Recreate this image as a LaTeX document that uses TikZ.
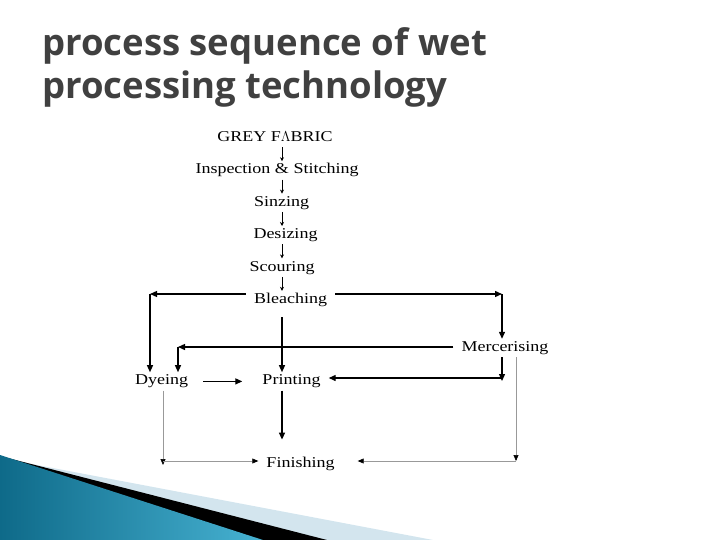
\documentclass[tikz,border=0pt]{standalone}
\usepackage{fontspec}
\usetikzlibrary{arrows.meta, positioning}
\newfontfamily\titlefont{Open Sans}
\newfontfamily\flowfont[FakeStretch=1.2]{Liberation Serif}
\definecolor{titlegray}{HTML}{404040}
\definecolor{tealdark}{HTML}{0E6A89}
\definecolor{teallight}{HTML}{47B2D2}
\definecolor{paleband}{HTML}{D3E5EE}

\begin{document}
\begin{tikzpicture}[
    x=1pt, y=-1pt,
    node distance=14pt,
    % Style definitions
    heading/.style={anchor=base west, inner sep=0pt, align=left, text=titlegray,
                    font=\titlefont\bfseries\fontsize{36.5}{43}\selectfont},
    stage/.style={inner xsep=8pt, inner ysep=2pt, text height=10.5pt, text depth=3.5pt,
                  font=\flowfont\fontsize{15}{18}\selectfont},
    link/.style={-{Stealth[length=4pt, width=4pt]}, line width=0.6pt},
    arrow/.style={-{Triangle[length=7pt, width=6pt]}, line width=1.3pt},
    faint/.style={-{Triangle[length=6pt, width=5pt, color=black]}, line width=0.6pt, draw=black!40},
]
\useasboundingbox (0,0) rectangle (720,540);

% Corner decoration
\fill[paleband] (0,458) -- (433,540) -- (0,540) -- cycle;
\fill[black] (0,456) -- (327,540) -- (0,540) -- cycle;
\shade[left color=tealdark, right color=teallight] (0,455) -- (263,540) -- (0,540) -- cycle;

% Title
\node[heading] (title) at (42,99) {process sequence of wet\\processing technology};

% Vertical sequence
\node[stage] (grey) at (275,138) {GREY F\raisebox{0pt}{$\Lambda$}BRIC};
\node[stage, below=of grey, xshift=2pt] (insp) {Inspection \& Stitching};
\node[stage, below=of insp, xshift=4.5pt] (sinz) {Sinzing};
\node[stage, below=of sinz, xshift=4pt] (desiz) {Desizing};
\node[stage, below=of desiz, xshift=-3.5pt] (scour) {Scouring};
\node[stage, below=of scour, xshift=8.5pt] (bleach) {Bleaching};

\node[stage, below=63pt of bleach, xshift=1pt] (print) {Printing};
\node[stage, left=58pt of print] (dye) {Dyeing};
\node[stage, below=64pt of print, xshift=9pt] (fin) {Finishing};
\node[stage] (merc) at (505,348) {Mercerising};

\coordinate (spine) at (282,0);
\coordinate (kBL) at (150,294);
\coordinate (kBR) at (502,294);
\coordinate (kML) at (178,347);
\coordinate (kMP) at (502,378);
\coordinate (kDF) at (163,461);
\coordinate (kMF) at (516,461);

% Arrows
\draw[link] (grey.south -| spine) -- (insp.north -| spine);
\draw[link] (insp.south -| spine) -- (sinz.north -| spine);
\draw[link] (sinz.south -| spine) -- (desiz.north -| spine);
\draw[link] (desiz.south -| spine) -- (scour.north -| spine);
\draw[link] (scour.south -| spine) -- (bleach.north -| spine);

\draw[arrow] (bleach.west |- kBL) -- (kBL);
\draw[arrow] (kBL) -- (kBL |- dye.north);
\draw[arrow] (bleach.east |- kBR) -- (kBR);
\draw[arrow] (kBR) -- (kBR |- merc.north);
\draw[arrow] (merc.west |- kML) -- (kML);
\draw[arrow] (kML) -- (kML |- dye.north);
\draw[arrow, shorten <=8pt] (bleach.south -| spine) -- (print.north -| spine);
\draw[arrow, shorten <=7pt, shorten >=12pt] (dye) -- (print);
\draw[arrow] (merc.south -| kMP) -- ([yshift=-3pt]kMP);
\draw[arrow] (kMP) -- (kMP -| print.east);
\draw[arrow, shorten >=15pt] (print.south -| spine) -- (fin.north -| spine);

\draw[faint] (dye.south -| kDF) -- ([yshift=-4pt]kDF);
\draw[faint] (kDF) -- (kDF -| fin.west);
\draw[faint] (merc.south -| kMF) -- (kMF);
\draw[faint, shorten >=15pt] (kMF) -- (kMF -| fin.east);

\end{tikzpicture}
\end{document}
